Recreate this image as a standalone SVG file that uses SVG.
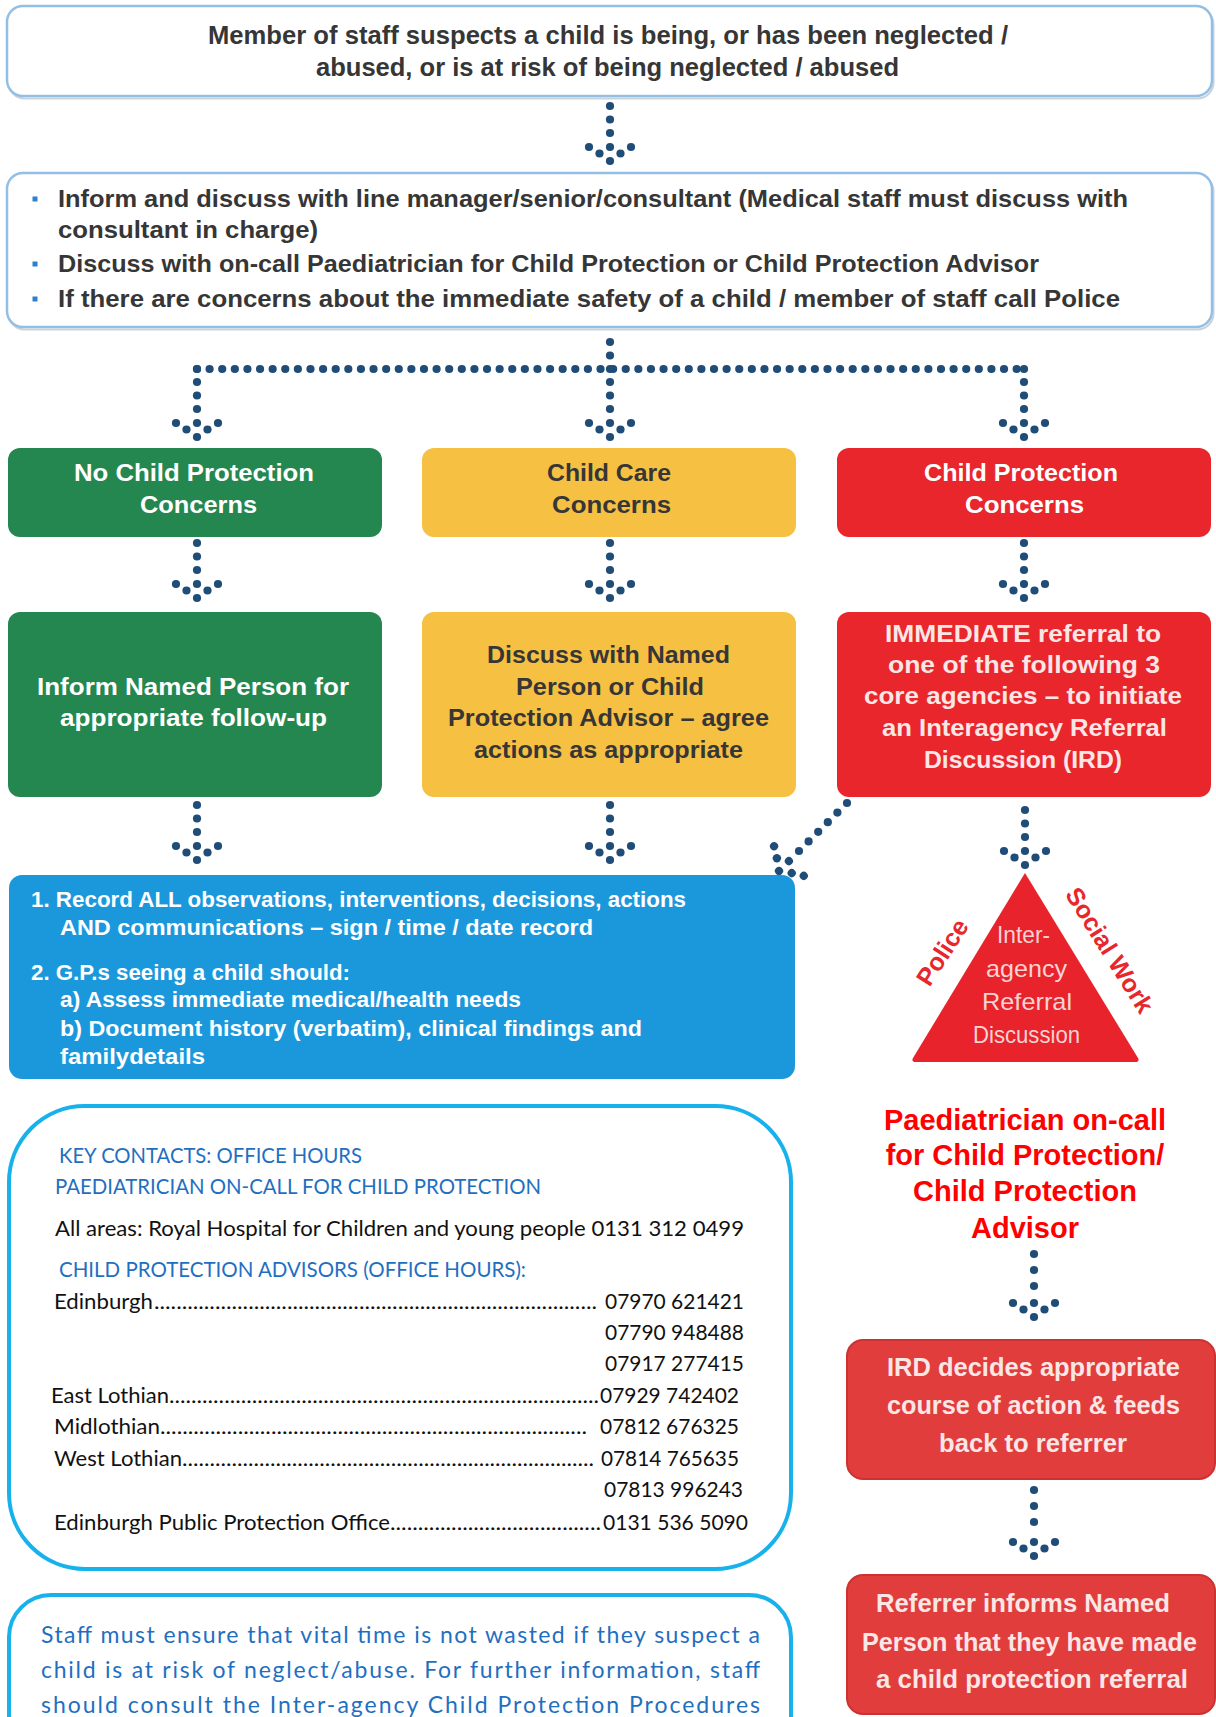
<svg xmlns="http://www.w3.org/2000/svg" xmlns:xlink="http://www.w3.org/1999/xlink" width="1216" height="1717" viewBox="0 0 1216 1717">
<style>
.b{font-family:"Liberation Sans",Arial,sans-serif;font-weight:bold}
.r{font-family:"Liberation Sans",Arial,sans-serif}
.c{font-family:Lato,"Liberation Sans",sans-serif}
.dk{fill:#363636}
.wh{fill:#ffffff}
.pk{fill:#fbe6e6}
.bl{fill:#1f6fc1}
.bk{fill:#111111}
.dots{fill:none;stroke:#1f4d78;stroke-width:8.2;stroke-linecap:round;stroke-dasharray:0 12.61}
.frame{fill:#ffffff;stroke:#94bfe5;stroke-width:2.5}
.shadow{fill:none;stroke:#c9d3dc;stroke-width:2}
.redbox{fill:#e13d3c;stroke:#cc3232;stroke-width:2}
.contact{fill:none;stroke:#17b1ec;stroke-width:4}
</style>
<defs>
<circle id="dot" cx="0" cy="0" r="4.1" fill="#1f4d78"/>
<g id="head" fill="#1f4d78">
<circle cx="0" cy="0" r="4.1"/><circle cx="0" cy="-14" r="4.1"/>
<circle cx="-10.5" cy="-7.5" r="4.1"/><circle cx="10.5" cy="-7.5" r="4.1"/>
<circle cx="-21" cy="-14" r="4.1"/><circle cx="21" cy="-14" r="4.1"/>
</g>
<g id="stem3">
<use xlink:href="#dot" y="-55"/><use xlink:href="#dot" y="-41.5"/><use xlink:href="#dot" y="-28"/>
<use xlink:href="#head"/>
</g>
</defs>
<rect width="1216" height="1717" fill="#ffffff"/>

<g id="connectors">
<use xlink:href="#stem3" x="610" y="161"/>
<use xlink:href="#dot" x="610" y="342"/><use xlink:href="#dot" x="610" y="355.5"/>
<path class="dots" d="M197 369H1024"/>
<use xlink:href="#dot" x="197" y="369"/><use xlink:href="#dot" x="610" y="369"/><use xlink:href="#dot" x="1024" y="369"/>
<use xlink:href="#stem3" x="197" y="437"/>
<use xlink:href="#stem3" x="610" y="437"/>
<use xlink:href="#stem3" x="1024" y="437"/>
<use xlink:href="#stem3" x="197" y="598"/>
<use xlink:href="#stem3" x="610" y="598"/>
<use xlink:href="#stem3" x="1024" y="598"/>
<use xlink:href="#stem3" x="197" y="860"/>
<use xlink:href="#stem3" x="610" y="860"/>
<use xlink:href="#dot" x="847" y="803"/><use xlink:href="#dot" x="837.4" y="812.6"/><use xlink:href="#dot" x="827.8" y="822.2"/>
<use xlink:href="#dot" x="818.2" y="831.8"/><use xlink:href="#dot" x="808.6" y="841.4"/><use xlink:href="#dot" x="799" y="851"/>
<use xlink:href="#head" transform="translate(779 871) rotate(45)"/>
<use xlink:href="#stem3" x="1025" y="865"/>
<use xlink:href="#dot" x="1034" y="1254"/><use xlink:href="#dot" x="1034" y="1270"/><use xlink:href="#dot" x="1034" y="1286"/>
<use xlink:href="#head" x="1034" y="1317"/>
<use xlink:href="#dot" x="1034" y="1490"/><use xlink:href="#dot" x="1034" y="1506"/><use xlink:href="#dot" x="1034" y="1522"/>
<use xlink:href="#head" x="1034" y="1556"/>
</g>

<g id="n-suspects">
<rect class="shadow" x="8.5" y="8.5" width="1205" height="90" rx="16"/>
<rect class="frame" x="7" y="6" width="1205" height="90" rx="16"/>
<text class="b dk" x="208" y="44" font-size="25" textLength="800" lengthAdjust="spacingAndGlyphs">Member of staff suspects a child is being, or has been neglected /</text>
<text class="b dk" x="316" y="76" font-size="25" textLength="583" lengthAdjust="spacingAndGlyphs">abused, or is at risk of being neglected / abused</text>
</g>

<g id="n-inform">
<rect class="shadow" x="8.5" y="175.5" width="1205" height="154" rx="16"/>
<rect class="frame" x="7" y="173" width="1205" height="154" rx="16"/>
<rect x="32.5" y="196.5" width="5" height="5" fill="#2e7fd0"/>
<rect x="32.5" y="261.5" width="5" height="5" fill="#2e7fd0"/>
<rect x="32.5" y="296.5" width="5" height="5" fill="#2e7fd0"/>
<text class="b dk" x="58" y="207" font-size="24" textLength="1070" lengthAdjust="spacingAndGlyphs">Inform and discuss with line manager/senior/consultant (Medical staff must discuss with</text>
<text class="b dk" x="58" y="238" font-size="24" textLength="260" lengthAdjust="spacingAndGlyphs">consultant in charge)</text>
<text class="b dk" x="58" y="272" font-size="24" textLength="981" lengthAdjust="spacingAndGlyphs">Discuss with on-call Paediatrician for Child Protection or Child Protection Advisor</text>
<text class="b dk" x="58" y="307" font-size="24" textLength="1062" lengthAdjust="spacingAndGlyphs">If there are concerns about the immediate safety of a child / member of staff call Police</text>
</g>

<g id="n-no-cp">
<rect x="8" y="448" width="374" height="89" rx="12" fill="#24874f"/>
<text class="b wh" x="74" y="481" font-size="23" textLength="240" lengthAdjust="spacingAndGlyphs">No Child Protection</text>
<text class="b wh" x="140" y="513" font-size="23" textLength="117" lengthAdjust="spacingAndGlyphs">Concerns</text>
</g>
<g id="n-child-care">
<rect x="422" y="448" width="374" height="89" rx="12" fill="#f6c042"/>
<text class="b dk" x="547" y="481" font-size="23" textLength="124" lengthAdjust="spacingAndGlyphs">Child Care</text>
<text class="b dk" x="552" y="513" font-size="23" textLength="119" lengthAdjust="spacingAndGlyphs">Concerns</text>
</g>
<g id="n-cp">
<rect x="837" y="448" width="374" height="89" rx="12" fill="#e8262c"/>
<text class="b wh" x="924" y="481" font-size="23" textLength="194" lengthAdjust="spacingAndGlyphs">Child Protection</text>
<text class="b wh" x="965" y="513" font-size="23" textLength="119" lengthAdjust="spacingAndGlyphs">Concerns</text>
</g>

<g id="n-inform-named">
<rect x="8" y="612" width="374" height="185" rx="12" fill="#24874f"/>
<text class="b wh" x="37" y="695" font-size="23" textLength="312" lengthAdjust="spacingAndGlyphs">Inform Named Person for</text>
<text class="b wh" x="60" y="726" font-size="23" textLength="267" lengthAdjust="spacingAndGlyphs">appropriate follow-up</text>
</g>
<g id="n-discuss-named">
<rect x="422" y="612" width="374" height="185" rx="12" fill="#f6c042"/>
<text class="b dk" x="487" y="663" font-size="23" textLength="243" lengthAdjust="spacingAndGlyphs">Discuss with Named</text>
<text class="b dk" x="516" y="695" font-size="23" textLength="188" lengthAdjust="spacingAndGlyphs">Person or Child</text>
<text class="b dk" x="448" y="726" font-size="23" textLength="321" lengthAdjust="spacingAndGlyphs">Protection Advisor – agree</text>
<text class="b dk" x="474" y="758" font-size="23" textLength="269" lengthAdjust="spacingAndGlyphs">actions as appropriate</text>
</g>
<g id="n-immediate">
<rect x="837" y="612" width="374" height="185" rx="12" fill="#e8262c"/>
<text class="b pk" x="885" y="642" font-size="23" textLength="276" lengthAdjust="spacingAndGlyphs">IMMEDIATE referral to</text>
<text class="b pk" x="888" y="673" font-size="23" textLength="272" lengthAdjust="spacingAndGlyphs">one of the following 3</text>
<text class="b pk" x="864" y="704" font-size="23" textLength="318" lengthAdjust="spacingAndGlyphs">core agencies – to initiate</text>
<text class="b pk" x="882" y="736" font-size="23" textLength="285" lengthAdjust="spacingAndGlyphs">an Interagency Referral</text>
<text class="b pk" x="924" y="768" font-size="23" textLength="198" lengthAdjust="spacingAndGlyphs">Discussion (IRD)</text>
</g>

<g id="n-record">
<rect x="9" y="875" width="786" height="204" rx="13" fill="#1b98dc"/>
<text class="b wh" x="31" y="907" font-size="22" textLength="655" lengthAdjust="spacingAndGlyphs">1. Record ALL observations, interventions, decisions, actions</text>
<text class="b wh" x="60" y="935" font-size="22" textLength="533" lengthAdjust="spacingAndGlyphs">AND communications – sign / time / date record</text>
<text class="b wh" x="31" y="980" font-size="22" textLength="319" lengthAdjust="spacingAndGlyphs">2. G.P.s seeing a child should:</text>
<text class="b wh" x="60" y="1007" font-size="22" textLength="461" lengthAdjust="spacingAndGlyphs">a) Assess immediate medical/health needs</text>
<text class="b wh" x="60" y="1036" font-size="22" textLength="582" lengthAdjust="spacingAndGlyphs">b) Document history (verbatim), clinical findings and</text>
<text class="b wh" x="60" y="1064" font-size="22" textLength="145" lengthAdjust="spacingAndGlyphs">familydetails</text>
</g>

<g id="n-ird-triangle">
<path d="M1025 873L1138 1058Q1140 1062 1135 1062L916 1062Q911 1062 913 1058Z" fill="#e8232b"/>
<text class="r" fill="#f7d3d3" x="997" y="943" font-size="24" textLength="53" lengthAdjust="spacingAndGlyphs">Inter-</text>
<text class="r" fill="#f7d3d3" x="986" y="977" font-size="24" textLength="81" lengthAdjust="spacingAndGlyphs">agency</text>
<text class="r" fill="#f7d3d3" x="982" y="1010" font-size="24" textLength="90" lengthAdjust="spacingAndGlyphs">Referral</text>
<text class="r" fill="#f7d3d3" x="973" y="1043" font-size="24" textLength="107" lengthAdjust="spacingAndGlyphs">Discussion</text>
<text class="b" fill="#e8262c" font-size="25" text-anchor="middle" transform="translate(942 952) rotate(-57)" x="0" y="9">Police</text>
<text class="b" fill="#e8262c" font-size="25" text-anchor="middle" transform="translate(1110 950) rotate(58)" x="0" y="9">Social Work</text>
</g>

<g id="n-paediatrician">
<text class="b" fill="#ff0000" font-size="29" text-anchor="middle" x="1025" y="1130">Paediatrician on-call</text>
<text class="b" fill="#ff0000" font-size="29" text-anchor="middle" x="1025" y="1165">for Child Protection/</text>
<text class="b" fill="#ff0000" font-size="29" text-anchor="middle" x="1025" y="1201">Child Protection</text>
<text class="b" fill="#ff0000" font-size="29" text-anchor="middle" x="1025" y="1238">Advisor</text>
</g>

<g id="n-ird-decides">
<rect class="redbox" x="847" y="1340" width="368" height="139" rx="16"/>
<text class="b pk" x="887" y="1376" font-size="26" textLength="293" lengthAdjust="spacingAndGlyphs">IRD decides appropriate</text>
<text class="b pk" x="887" y="1414" font-size="26" textLength="293" lengthAdjust="spacingAndGlyphs">course of action &amp; feeds</text>
<text class="b pk" x="939" y="1452" font-size="26" textLength="188" lengthAdjust="spacingAndGlyphs">back to referrer</text>
</g>

<g id="n-referrer">
<rect class="redbox" x="847" y="1575" width="368" height="139" rx="16"/>
<text class="b pk" x="876" y="1612" font-size="25" textLength="294" lengthAdjust="spacingAndGlyphs">Referrer informs Named</text>
<text class="b pk" x="862" y="1651" font-size="25" textLength="335" lengthAdjust="spacingAndGlyphs">Person that they have made</text>
<text class="b pk" x="876" y="1688" font-size="25" textLength="312" lengthAdjust="spacingAndGlyphs">a child protection referral</text>
</g>

<g id="n-key-contacts">
<rect class="contact" x="9" y="1106" width="782" height="463" rx="76"/>
<text class="c bl" x="59" y="1163" font-size="21" textLength="303" lengthAdjust="spacingAndGlyphs">KEY CONTACTS: OFFICE HOURS</text>
<text class="c bl" x="55" y="1194" font-size="21" textLength="486" lengthAdjust="spacingAndGlyphs">PAEDIATRICIAN ON-CALL FOR CHILD PROTECTION</text>
<text class="c bk" x="55" y="1236" font-size="21" textLength="689" lengthAdjust="spacingAndGlyphs">All areas: Royal Hospital for Children and young people 0131 312 0499</text>
<text class="c bl" x="59" y="1277" font-size="21" textLength="467" lengthAdjust="spacingAndGlyphs">CHILD PROTECTION ADVISORS (OFFICE HOURS):</text>

<text class="c bk" x="54" y="1309" font-size="21" textLength="99" lengthAdjust="spacingAndGlyphs">Edinburgh</text>
<text class="c bk" x="154" y="1309" font-size="21" textLength="443" lengthAdjust="spacingAndGlyphs">................................................................................</text>
<text class="c bk" x="605" y="1309" font-size="21" textLength="139" lengthAdjust="spacingAndGlyphs">07970 621421</text>
<text class="c bk" x="605" y="1340" font-size="21" textLength="139" lengthAdjust="spacingAndGlyphs">07790 948488</text>
<text class="c bk" x="605" y="1371" font-size="21" textLength="139" lengthAdjust="spacingAndGlyphs">07917 277415</text>

<text class="c bk" x="51" y="1403" font-size="21" textLength="118" lengthAdjust="spacingAndGlyphs">East Lothian</text>
<text class="c bk" x="169" y="1403" font-size="21" textLength="430" lengthAdjust="spacingAndGlyphs">..............................................................................</text>
<text class="c bk" x="600" y="1403" font-size="21" textLength="139" lengthAdjust="spacingAndGlyphs">07929 742402</text>

<text class="c bk" x="54" y="1434" font-size="21" textLength="106" lengthAdjust="spacingAndGlyphs">Midlothian</text>
<text class="c bk" x="160" y="1434" font-size="21" textLength="427" lengthAdjust="spacingAndGlyphs">.............................................................................</text>
<text class="c bk" x="600" y="1434" font-size="21" textLength="139" lengthAdjust="spacingAndGlyphs">07812 676325</text>

<text class="c bk" x="54" y="1466" font-size="21" textLength="128" lengthAdjust="spacingAndGlyphs">West Lothian</text>
<text class="c bk" x="182" y="1466" font-size="21" textLength="412" lengthAdjust="spacingAndGlyphs">...........................................................................</text>
<text class="c bk" x="601" y="1466" font-size="21" textLength="138" lengthAdjust="spacingAndGlyphs">07814 765635</text>
<text class="c bk" x="604" y="1497" font-size="21" textLength="139" lengthAdjust="spacingAndGlyphs">07813 996243</text>

<text class="c bk" x="54" y="1530" font-size="21" textLength="336" lengthAdjust="spacingAndGlyphs">Edinburgh Public Protection Office</text>
<text class="c bk" x="390" y="1530" font-size="21" textLength="211" lengthAdjust="spacingAndGlyphs">......................................</text>
<text class="c bk" x="603" y="1530" font-size="21" textLength="145" lengthAdjust="spacingAndGlyphs">0131 536 5090</text>
</g>

<g id="n-note">
<rect class="contact" x="9" y="1595" width="782" height="220" rx="42"/>
<text class="c bl" x="41" y="1643" font-size="23" textLength="719" lengthAdjust="spacing">Staff must ensure that vital time is not wasted if they suspect a</text>
<text class="c bl" x="41" y="1678" font-size="23" textLength="719" lengthAdjust="spacing">child is at risk of neglect/abuse. For further information, staff</text>
<text class="c bl" x="41" y="1713" font-size="23" textLength="719" lengthAdjust="spacing">should consult the Inter-agency Child Protection Procedures</text>
</g>
</svg>
